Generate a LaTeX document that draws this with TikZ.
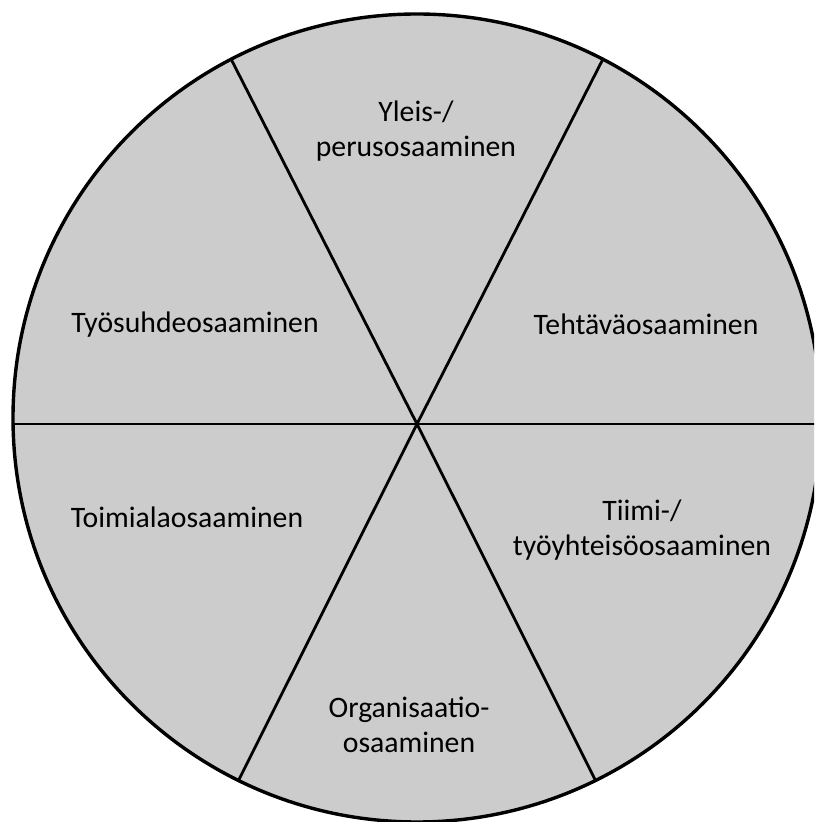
\documentclass[tikz,border=0pt]{standalone}
\usepackage{fontspec}
\setmainfont{Carlito}
\usepackage{tikz}
\definecolor{wheelgray}{HTML}{CCCCCC}
\tikzset{
  wheel/.style={
    draw=black,
    fill=wheelgray,
    line width=3.4pt
  },
  divider/.style={draw=black, line width=2.8pt},
  label/.style={
    anchor=base,
    align=center,
    inner sep=0pt,
    font=\fontsize{29.7}{35}\selectfont
  }
}

\begin{document}
\begin{tikzpicture}[x=1pt, y=1pt]
  \useasboundingbox (0,0) rectangle (814,822);
  \clip (0,0) rectangle (814,822);

  \coordinate (c) at (417,404);
  \coordinate (x) at (417,398);
  \fill[wheelgray] (c) circle[radius=404];

  % dividers, cut at the rim
  \begin{scope}
    \clip (c) circle[radius=404];
    \draw[divider] (x) -- ++(63:450);
    \draw[divider] (x) -- ++(117:450);
    \draw[divider] (x) -- ++(243.4:450);
    \draw[divider] (x) -- ++(296.6:450);
    \draw[divider] (x) -- ++(0:450);
    \draw[divider] (x) -- ++(180:450);
  \end{scope}
  \draw[wheel, fill=none] (c) circle[radius=404];

  \node[label] (yleis) at (416,665) {Yleis-/\\perusosaaminen};
  \node[label] (tyosuhde) at (195,489) {Työsuhdeosaaminen};
  \node[label] (tehtava) at (646,487) {Tehtäväosaaminen};
  \node[label] (toimiala) at (187,294) {Toimialaosaaminen};
  \node[label] (tiimi) at (642,266) {Tiimi-/\\työyhteisöosaaminen};
  \node[label] (organisaatio) at (409,69) {Organisaatio-\\osaaminen};
\end{tikzpicture}
\end{document}
